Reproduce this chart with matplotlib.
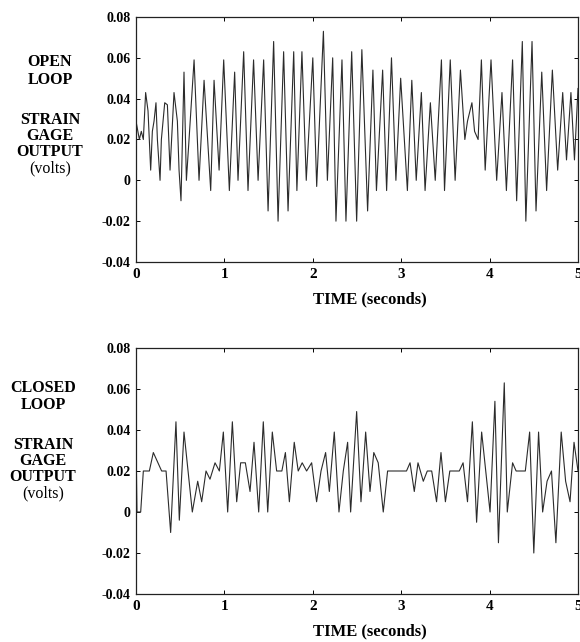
import numpy as np
import matplotlib
matplotlib.use("Agg")
from matplotlib import pyplot as plt

# open loop trace: turning points (seconds, volts)
open_t = [0.0, 0.038, 0.06, 0.083, 0.109, 0.136, 0.166, 0.185, 0.204, 0.226,
          0.242, 0.272, 0.287, 0.325, 0.355, 0.385, 0.43, 0.468, 0.487, 0.509,
          0.543, 0.57, 0.6, 0.657, 0.713, 0.77, 0.845, 0.883, 0.94, 0.992,
          1.056, 1.116, 1.154, 1.218, 1.267, 1.33, 1.381, 1.444, 1.494, 1.557,
          1.607, 1.67, 1.72, 1.784, 1.82, 1.877, 1.926, 2.0, 2.044, 2.12,
          2.165, 2.225, 2.262, 2.33, 2.375, 2.44, 2.496, 2.555, 2.62, 2.68,
          2.72, 2.79, 2.835, 2.89, 2.94, 2.994, 3.07, 3.12, 3.17, 3.228,
          3.27, 3.33, 3.385, 3.455, 3.49, 3.555, 3.61, 3.67, 3.72, 3.75,
          3.8, 3.83, 3.87, 3.907, 3.95, 4.016, 4.08, 4.14, 4.19, 4.26,
          4.306, 4.37, 4.41, 4.48, 4.525, 4.59, 4.645, 4.71, 4.77, 4.827,
          4.87, 4.92, 4.96, 5.0]
open_v = [0.029, 0.020, 0.024, 0.020, 0.043, 0.034, 0.005, 0.024, 0.029, 0.038,
          0.020, 0.0, 0.020, 0.038, 0.037, 0.005, 0.043, 0.029, 0.005, -0.010,
          0.053, 0.0, 0.020, 0.059, 0.0, 0.049, -0.005, 0.049, 0.005, 0.059,
          -0.005, 0.053, 0.0, 0.063, -0.005, 0.059, 0.0, 0.059, -0.015, 0.068,
          -0.020, 0.063, -0.015, 0.063, -0.005, 0.063, 0.0, 0.060, -0.003, 0.073,
          0.0, 0.060, -0.020, 0.059, -0.020, 0.063, -0.020, 0.064, -0.015, 0.054,
          -0.005, 0.054, -0.005, 0.060, 0.0, 0.050, -0.005, 0.049, 0.0, 0.043,
          -0.005, 0.038, 0.0, 0.059, -0.005, 0.059, 0.0, 0.054, 0.020, 0.029,
          0.038, 0.024, 0.020, 0.059, 0.005, 0.059, 0.0, 0.043, -0.005, 0.059,
          -0.010, 0.068, -0.020, 0.068, -0.015, 0.053, -0.005, 0.054, 0.005, 0.043,
          0.010, 0.043, 0.010, 0.045]

# closed loop trace
closed_t = [0.0, 0.011, 0.053, 0.083, 0.151, 0.196, 0.29, 0.34, 0.392, 0.452,
            0.49, 0.543, 0.637, 0.698, 0.743, 0.792, 0.837, 0.894, 0.943, 0.988,
            1.037, 1.09, 1.139, 1.184, 1.237, 1.29, 1.335, 1.388, 1.44, 1.49,
            1.542, 1.591, 1.65, 1.69, 1.735, 1.79, 1.835, 1.88, 1.93, 1.987,
            2.043, 2.093, 2.145, 2.187, 2.243, 2.296, 2.345, 2.394, 2.428, 2.496,
            2.545, 2.598, 2.647, 2.69, 2.74, 2.797, 2.846, 3.06, 3.1, 3.148,
            3.19, 3.25, 3.295, 3.345, 3.4, 3.45, 3.5, 3.55, 3.657, 3.7,
            3.75, 3.805, 3.853, 3.91, 4.005, 4.06, 4.1, 4.166, 4.2, 4.26,
            4.3, 4.404, 4.453, 4.5, 4.554, 4.6, 4.65, 4.7, 4.75, 4.81,
            4.86, 4.91, 4.955, 5.0]
closed_v = [0.035, 0.0, 0.0, 0.020, 0.020, 0.029, 0.020, 0.020, -0.010, 0.044,
            -0.004, 0.039, 0.0, 0.015, 0.005, 0.020, 0.016, 0.024, 0.020, 0.039,
            0.0, 0.044, 0.005, 0.024, 0.024, 0.010, 0.034, 0.0, 0.044, 0.0,
            0.039, 0.020, 0.020, 0.029, 0.005, 0.034, 0.020, 0.024, 0.020, 0.024,
            0.005, 0.020, 0.029, 0.010, 0.039, 0.0, 0.020, 0.034, 0.0, 0.049,
            0.005, 0.039, 0.010, 0.029, 0.024, 0.0, 0.020, 0.020, 0.024, 0.010,
            0.024, 0.015, 0.020, 0.020, 0.005, 0.029, 0.005, 0.020, 0.020, 0.024,
            0.005, 0.044, -0.005, 0.039, 0.0, 0.054, -0.015, 0.063, 0.0, 0.024,
            0.020, 0.020, 0.039, -0.020, 0.039, 0.0, 0.015, 0.020, -0.015, 0.039,
            0.015, 0.005, 0.034, 0.020]

x_ticks = [0, 1, 2, 3, 4, 5]
y_ticks = [-0.04, -0.02, 0, 0.02, 0.04, 0.06, 0.08]
y_tick_labels = ["-0.04", "-0.02", "0", "0.02", "0.04", "0.06", "0.08"]
x_label = "TIME (seconds)"
open_lines = ["OPEN", "LOOP", "STRAIN", "GAGE", "OUTPUT", "(volts)"]
closed_lines = ["CLOSED", "LOOP", "STRAIN", "GAGE", "OUTPUT", "(volts)"]

plt.rcParams['font.family'] = ['Liberation Serif', 'DejaVu Serif']

W, H = 580, 642
fig = plt.figure(figsize=(W/100, H/100), dpi=100)


def panel(rect, t, v, side_lines, side_x, side_y):
    ax = fig.add_axes(rect)
    ax.plot(t, v, color='#2b2b2b', lw=0.8)
    ax.set_xlim(0, 5)
    ax.set_ylim(-0.04, 0.08)
    ax.set_xticks(x_ticks)
    ax.set_xticklabels([str(x) for x in x_ticks], fontsize=11, fontweight='bold')
    ax.set_yticks(y_ticks)
    ax.set_yticklabels(y_tick_labels, fontsize=10, fontweight='bold')
    ax.tick_params(direction='in', top=True, right=True, length=3, width=0.7, pad=4)
    for s in ax.spines.values():
        s.set_linewidth(0.9)
        s.set_color('#222222')
    ax.set_xlabel(x_label, fontsize=12, fontweight='bold')
    ax.xaxis.set_label_coords(0.53, -0.12)
    # stacked axis caption on the left
    for txt, yy in zip(side_lines, side_y):
        fig.text(side_x/W, 1 - yy/H, txt, ha='center', va='center', fontsize=11.5,
                 fontweight='normal' if txt.startswith('(') else 'bold')
    return ax


ax1 = panel([136/W, 1 - 262/H, 442/W, 245/H], open_t, open_v,
            open_lines, 50, [62, 80, 120, 136, 152, 168])
ax2 = panel([136/W, 1 - 594/H, 442/W, 246/H], closed_t, closed_v,
            closed_lines, 43, [388, 405, 445, 461, 477, 493])

fig.savefig("out.png", dpi=100)
